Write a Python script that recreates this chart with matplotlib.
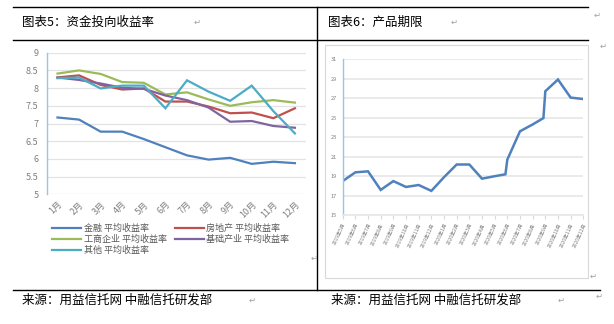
import matplotlib
matplotlib.use("Agg")
import matplotlib.pyplot as plt
from matplotlib.lines import Line2D
from matplotlib.patches import Rectangle

plt.rcParams['font.family'] = ['Noto Sans CJK SC', 'DejaVu Sans']

# ---- Left chart data: 资金投向收益率 ----
months = ["1月", "2月", "3月", "4月", "5月", "6月", "7月", "8月", "9月", "10月", "11月", "12月"]
finance = [7.17, 7.11, 6.77, 6.77, 6.56, 6.33, 6.10, 5.98, 6.03, 5.86, 5.92, 5.88]
real_estate = [8.30, 8.36, 8.09, 7.96, 7.99, 7.62, 7.62, 7.48, 7.29, 7.31, 7.15, 7.43]
industry = [8.41, 8.50, 8.40, 8.17, 8.15, 7.82, 7.88, 7.68, 7.50, 7.60, 7.66, 7.59]
infra = [8.30, 8.23, 8.13, 8.01, 7.98, 7.79, 7.66, 7.45, 7.05, 7.07, 6.93, 6.88]
other = [8.28, 8.30, 7.99, 8.07, 8.07, 7.43, 8.22, 7.90, 7.64, 8.07, 7.35, 6.72]
series_names = ["金融 平均收益率", "房地产 平均收益率", "工商企业 平均收益率", "基础产业 平均收益率", "其他 平均收益率"]
series_colors = ["#4F81BD", "#C0504D", "#9BBB59", "#8064A2", "#4BACC6"]
left_yticks = [5, 5.5, 6, 6.5, 7, 7.5, 8, 8.5, 9]

# ---- Right chart data: 产品期限 ----
term_labels = ["2019年5月", "2019年6月", "2019年7月", "2019年8月", "2019年9月", "2019年10月",
               "2019年11月", "2019年12月", "2020年1月", "2020年2月", "2020年3月", "2020年4月",
               "2020年5月", "2020年6月", "2020年7月", "2020年8月", "2020年9月", "2020年10月",
               "2020年11月", "2020年12月"]
term_x = [0, 1, 2, 3, 4, 5, 6, 7, 8, 9, 10, 11, 12, 12.85, 13, 14, 15, 15.85, 16, 17, 18, 19]
term_y = [18.5, 19.4, 19.5, 17.6, 18.5, 17.9, 18.1, 17.5, 18.9, 20.2, 20.2, 18.75, 19.0, 19.2,
          20.7, 23.6, 24.3, 24.95, 27.7, 28.9, 27.05, 26.9]
right_yticks = [15, 17, 19, 21, 23, 25, 27, 29, 31]

W, H = 614, 324
fig = plt.figure(figsize=(W / 100, H / 100), dpi=100)

def fx(px):
    return px / W

def fy(py):
    return 1 - py / H

# ---- table lines ----
line_kw = dict(color="black", lw=1.0, transform=fig.transFigure)
fig.add_artist(Line2D([fx(13), fx(588)], [fy(7), fy(7)], **line_kw))
fig.add_artist(Line2D([fx(13), fx(588)], [fy(39.5), fy(39.5)], **line_kw))
fig.add_artist(Line2D([fx(13), fx(600)], [fy(290), fy(290)], **line_kw))
fig.add_artist(Line2D([fx(317), fx(317)], [fy(7), fy(290)], **line_kw))

# right chart frame
fig.add_artist(Rectangle((fx(325), fy(278)), fx(588) - fx(325), fy(45) - fy(278),
                         transform=fig.transFigure, fill=False, ec="#D9D9D9", lw=0.8))

# titles and sources
tkw = dict(fontsize=9, va="center", ha="left", color="black")
fig.text(fx(22), fy(22), "图表5：资金投向收益率", **tkw)
fig.text(fx(328), fy(22), "图表6：产品期限", **tkw)
fig.text(fx(22), fy(300), "来源：用益信托网 中融信托研发部", **tkw)
fig.text(fx(331), fy(300), "来源：用益信托网 中融信托研发部", **tkw)
mark_kw = dict(fontsize=6, color="#A0A0A0", va="center", ha="left", family="DejaVu Sans")
fig.text(fx(194), fy(22), "↵", **mark_kw)
fig.text(fx(451), fy(22), "↵", **mark_kw)
fig.text(fx(249), fy(300), "↵", **mark_kw)
fig.text(fx(558), fy(300), "↵", **mark_kw)
fig.text(fx(594), fy(15), "↵", **mark_kw)
fig.text(fx(600), fy(46), "↵", **mark_kw)
fig.text(fx(590), fy(276), "↵", **mark_kw)
fig.text(fx(596), fy(296), "↵", **mark_kw)
fig.text(fx(311), fy(258), "↵", **mark_kw)

# ---- left chart ----
axL = fig.add_axes([fx(46.7), fy(194.3), fx(305.7) - fx(46.7), fy(52.7) - fy(194.3)])
xs = list(range(len(months)))
handles = []
for vals, name, col in zip([finance, real_estate, industry, infra, other], series_names, series_colors):
    h, = axL.plot(xs, vals, color=col, lw=1.6, label=name, solid_joinstyle="miter")
    handles.append(h)
axL.set_xlim(-0.5, len(months) - 0.5)
axL.set_ylim(5, 9)
axL.set_yticks(left_yticks)
axL.set_yticklabels([f"{v:g}" for v in left_yticks])
axL.set_xticks(xs)
axL.set_xticklabels(months, rotation=45, ha="right", rotation_mode="anchor")
axL.tick_params(axis="both", length=0, colors="#7F7F7F", labelsize=6.5)
axL.tick_params(axis="y", pad=6)
axL.tick_params(axis="x", pad=4)
axL.grid(axis="y", color="#E3E3E3", lw=0.9)
axL.set_axisbelow(True)
for s in ["top", "right", "bottom"]:
    axL.spines[s].set_visible(False)
axL.spines["left"].set_color("#9DC3E6")
axL.spines["left"].set_linewidth(1.0)

order = [0, 2, 4, 1, 3]
leg = fig.legend([handles[i] for i in order], [series_names[i] for i in order],
                 ncol=2, loc="upper left", bbox_to_anchor=(fx(52), fy(224)),
                 frameon=False, fontsize=6.5, handlelength=3.2, handletextpad=0.3,
                 columnspacing=0.9, labelspacing=0.2, borderpad=0, borderaxespad=0)
for t in leg.get_texts():
    t.set_color("#595959")

# ---- right chart ----
axR = fig.add_axes([fx(342.7), fy(215.3), fx(583.3) - fx(342.7), fy(59) - fy(215.3)])
axR.plot(term_x, term_y, color="#4F81BD", lw=1.8, solid_joinstyle="miter")
axR.set_xlim(0, len(term_labels) - 1)
axR.set_ylim(15, 31)
axR.set_yticks(right_yticks)
axR.set_yticklabels([str(v) for v in right_yticks])
axR.set_xticks(range(len(term_labels)))
axR.set_xticklabels(term_labels, rotation=65, ha="right", rotation_mode="anchor")
axR.tick_params(axis="y", length=0, colors="#7F7F7F", labelsize=4, pad=4)
axR.tick_params(axis="x", length=3, color="#D9D9D9", labelcolor="#7F7F7F", labelsize=3.6, pad=2)
axR.grid(axis="y", color="#E8E8E8", lw=1.3)
axR.set_axisbelow(True)
for s in ["top", "right"]:
    axR.spines[s].set_visible(False)
axR.spines["bottom"].set_color("#E8E8E8")
axR.spines["bottom"].set_linewidth(1.3)
axR.spines["left"].set_color("#9DC3E6")
axR.spines["left"].set_linewidth(1.0)

fig.savefig("out.png", dpi=100)
